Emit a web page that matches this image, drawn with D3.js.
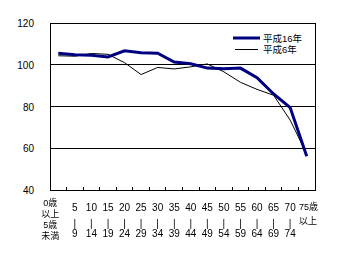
<!DOCTYPE html>
<html>
<head>
<meta charset="utf-8">
<script src="https://cdn.jsdelivr.net/npm/d3@7"></script>
<style>
  body { margin: 0; background: #fff; }
  text { font-family: "Liberation Sans", "Noto Sans CJK JP", sans-serif; font-size: 10px; fill: #000; }
  .xlabels { filter: grayscale(1); }
</style>
</head>
<body>
<svg id="chart" width="340" height="260"></svg>
<script>
// age groups, each label as stacked lines
const ageLabels = [
  ["0歳", "以上", "5歳", "未満"],
  ["5", "|", "9"], ["10", "|", "14"], ["15", "|", "19"], ["20", "|", "24"],
  ["25", "|", "29"], ["30", "|", "34"], ["35", "|", "39"], ["40", "|", "44"],
  ["45", "|", "49"], ["50", "|", "54"], ["55", "|", "59"], ["60", "|", "64"],
  ["65", "|", "69"], ["70", "|", "74"], ["75歳", "以上"]
];
const h16 = [105.5, 104.8, 104.6, 103.7, 106.7, 105.7, 105.5, 101.3, 100.5, 98.4, 98.1, 98.4, 93.8, 86.0, 79.5, 56.2];
const h6 = [104.3, 104.1, 105.4, 105.0, 101.0, 95.3, 98.7, 98.0, 99.0, 100.4, 96.6, 91.6, 88.2, 85.4, 73.5, 57.2];
const seriesNames = ["平成16年", "平成6年"];
const yTicks = [40, 60, 80, 100, 120];

const margin = {top: 23, right: 25, bottom: 70, left: 50};
const w = 340 - margin.left - margin.right;
const h = 260 - margin.top - margin.bottom;

const svg = d3.select("#chart");
const chart = svg.append("g").attr("transform", "translate(" + margin.left + "," + margin.top + ")");

const x = d3.scaleBand().domain(d3.range(ageLabels.length)).range([0, w]);
const y = d3.scaleLinear().domain([40, 120]).range([h, 0]);
const cx = (i) => x(i) + x.bandwidth() / 2;

// grid lines
chart.selectAll(".grid").data(yTicks.filter(t => t > 40 && t < 120)).enter()
  .append("line")
  .attr("x1", 0).attr("x2", w)
  .attr("y1", d => y(d)).attr("y2", d => y(d))
  .attr("stroke", "#000").attr("stroke-width", 1).attr("shape-rendering", "crispEdges");

// frame
chart.append("rect").attr("width", w).attr("height", h)
  .attr("fill", "none").attr("stroke", "#000").attr("shape-rendering", "crispEdges");

// y labels
chart.selectAll(".ylab").data(yTicks).enter()
  .append("text")
  .attr("x", -16).attr("y", d => y(d) + 4)
  .attr("text-anchor", "end")
  .text(d => d);

// x ticks pointing up at band boundaries
chart.selectAll(".xtick").data(d3.range(1, ageLabels.length)).enter()
  .append("line")
  .attr("x1", d => x(d)).attr("x2", d => x(d))
  .attr("y1", h).attr("y2", h - 3)
  .attr("stroke", "#000").attr("shape-rendering", "crispEdges");

// x labels (absolute baselines, converted into chart coords)
const last = ageLabels.length - 1;
const xLabels = chart.append("g").attr("class", "xlabels");
ageLabels.forEach(function(lines, i) {
  let rows, dx = 0, anchor = "middle", size = 10;
  if (i === 0) { rows = [206, 217, 228, 239]; dx = -8; size = 9; }
  else if (i === last) { rows = [210, 224]; dx = -x.bandwidth() / 2 + 0.5; anchor = "start"; size = 9; }
  else { rows = [211, 227, 237]; }
  lines.forEach(function(s, k) {
    xLabels.append("text")
      .attr("x", cx(i) + dx)
      .attr("y", rows[k] - margin.top)
      .attr("text-anchor", anchor)
      .style("font-size", size + "px")
      .text(s);
  });
});

const line = d3.line().x((d, i) => cx(i)).y(d => y(d));

chart.append("path").datum(h6).attr("d", line)
  .attr("fill", "none").attr("stroke", "#000").attr("stroke-width", 1);
chart.append("path").datum(h16).attr("d", line)
  .attr("fill", "none").attr("stroke", "#000080").attr("stroke-width", 3);

// legend
const legend = svg.append("g");
legend.append("line").attr("x1", 233).attr("x2", 260).attr("y1", 38).attr("y2", 38)
  .attr("stroke", "#000080").attr("stroke-width", 3);
legend.append("text").attr("x", 263).attr("y", 41.5).style("font-size", "9.5px").text(seriesNames[0]);
legend.append("line").attr("x1", 235).attr("x2", 258).attr("y1", 49.5).attr("y2", 49.5)
  .attr("stroke", "#000").attr("stroke-width", 1);
legend.append("text").attr("x", 263).attr("y", 53).style("font-size", "9.5px").text(seriesNames[1]);
</script>
</body>
</html>
